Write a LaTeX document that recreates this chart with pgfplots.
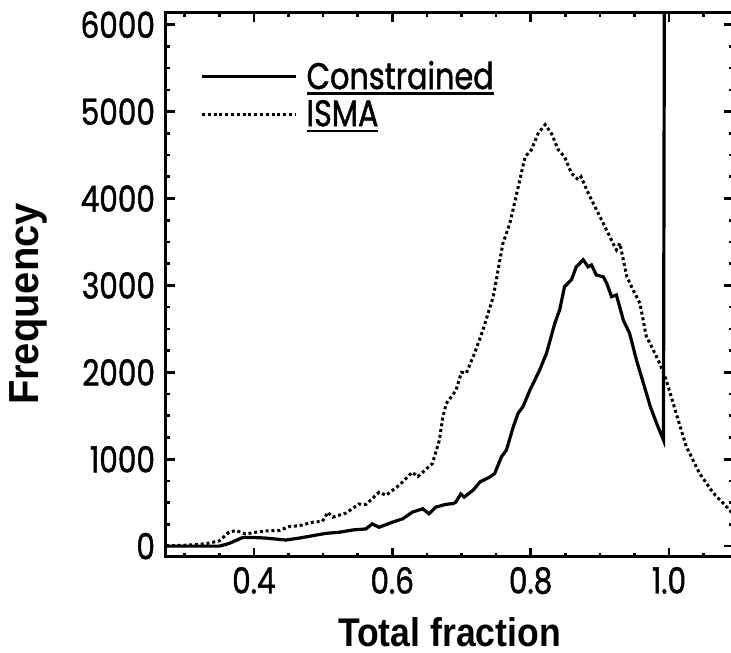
\documentclass[border=0pt]{standalone}
\usepackage{fontspec}
\setmainfont{Poppins}
\newfontfamily\geo{Poppins}[FakeStretch=0.82, FakeBold=1.2]
\newfontfamily\helv{Liberation Sans}
\usepackage{graphicx}
\usepackage{pgfplots}
\pgfplotsset{compat=1.18}
\newcommand\ul[1]{\setbox0\hbox{#1}\rlap{\rule[-3pt]{\wd0}{1.3pt}}\box0}
\begin{document}
\begin{tikzpicture}
\begin{axis}[
  scale only axis, width=283.5pt, height=272pt,
  xmin=0.273, xmax=1.0925, ymin=-125, ymax=6135,
  axis line style={line width=1.5pt},
  every tick/.style={line width=1.3pt, black},
  major tick length=4.5pt, minor tick length=2.2pt,
  tick align=inside,
  xtick={0.4,0.6,0.8,1.0},
  minor xtick={0.3,0.35,0.45,0.5,0.55,0.65,0.7,0.75,0.85,0.9,0.95,1.05},
  ytick={0,1000,2000,3000,4000,5000,6000},
  minor y tick num=3,
  scaled y ticks=false,
  xticklabel style={yshift=-1.5pt, /pgf/number format/.cd, fixed, fixed zerofill, precision=1},
  yticklabel style={xshift=-2pt, /pgf/number format/.cd, 1000 sep={}},
  /pgf/number format/assume math mode=true,
  ticklabel style={font=\geo\fontsize{18}{18}\selectfont},
  xlabel={\helv\bfseries\fontsize{20}{20}\selectfont\scalebox{0.89}[1]{Total fraction}},
  ylabel={\helv\bfseries\fontsize{21}{21}\selectfont\scalebox{0.95}[1]{Frequency}},
  xlabel style={at={(axis description cs:0.5,0)}, anchor=center, yshift=-37.5pt},
  ylabel style={at={(axis description cs:-0.243,0.465)}, anchor=center},
  legend style={at={(0.06,0.92)}, anchor=north west, draw=none, fill=none,
    font=\geo\fontsize{18.5}{18.5}\selectfont, row sep=0pt, inner sep=0pt},
  legend cell align=left,
  legend image code/.code={\draw[#1] (0pt,0pt) -- (47pt,0pt);},
]
\addplot[black, line width=1.6pt] coordinates {
(0.273,0) (0.35,0) (0.364,30) (0.384,100) (0.398,100) (0.417,93) (0.446,70)
(0.466,93) (0.485,120) (0.504,147) (0.523,159) (0.543,186) (0.562,198)
(0.571,256) (0.581,217) (0.6,275) (0.615,314) (0.629,391) (0.644,430)
(0.653,372) (0.663,449) (0.677,480) (0.688,490) (0.692,507) (0.699,600)
(0.704,565) (0.717,645) (0.727,740) (0.741,795) (0.748,835) (0.758,1030)
(0.765,1105) (0.775,1375) (0.782,1530) (0.789,1605) (0.799,1795) (0.813,2025)
(0.823,2220) (0.835,2565) (0.842,2720) (0.849,2985) (0.859,3065) (0.866,3215)
(0.876,3295) (0.883,3215) (0.888,3235) (0.895,3120) (0.905,3100) (0.910,3025)
(0.917,2870) (0.924,2890) (0.934,2600) (0.943,2450) (0.953,2140) (0.963,1875)
(0.973,1605) (0.982,1415) (0.992,1220) (0.994,9000)
};
\addlegendentry{\hspace*{2.5pt}\ul{Constrained}}
\addplot[black, line width=1.5pt, dash pattern=on 1.5pt off 1.4pt] coordinates {
(0.273,5) (0.30,10) (0.321,20) (0.335,35) (0.35,60) (0.364,160) (0.374,180)
(0.388,140) (0.403,160) (0.417,175) (0.437,180) (0.451,225) (0.466,235)
(0.485,275) (0.499,285) (0.507,390) (0.514,333) (0.533,380) (0.552,485)
(0.562,480) (0.581,620) (0.591,585) (0.61,700) (0.629,850) (0.637,800)
(0.658,950) (0.668,1215) (0.673,1480) (0.678,1640) (0.692,1790) (0.700,2000)
(0.707,1990) (0.719,2220) (0.731,2485) (0.746,2870) (0.753,3180) (0.760,3485)
(0.770,3715) (0.780,4060) (0.792,4480) (0.801,4560) (0.811,4750) (0.821,4850)
(0.830,4750) (0.840,4560) (0.849,4480) (0.859,4290) (0.869,4215) (0.873,4250)
(0.881,4100) (0.893,3905) (0.905,3715) (0.919,3485) (0.924,3410) (0.929,3485)
(0.939,3100) (0.948,2950) (0.958,2795) (0.967,2420) (0.977,2260) (0.987,2095)
(0.996,1910) (1.006,1645) (1.016,1380) (1.025,1145) (1.044,840) (1.064,610)
(1.083,455) (1.0925,370)
};
\addlegendentry{\hspace*{2.5pt}\ul{ISMA}}
\end{axis}
\pgfresetboundingbox
\path[use as bounding box] ([shift={(-83pt,-48pt)}]current axis.south west) rectangle ([shift={(-1pt,6.5pt)}]current axis.north east);
\end{tikzpicture}
\end{document}
